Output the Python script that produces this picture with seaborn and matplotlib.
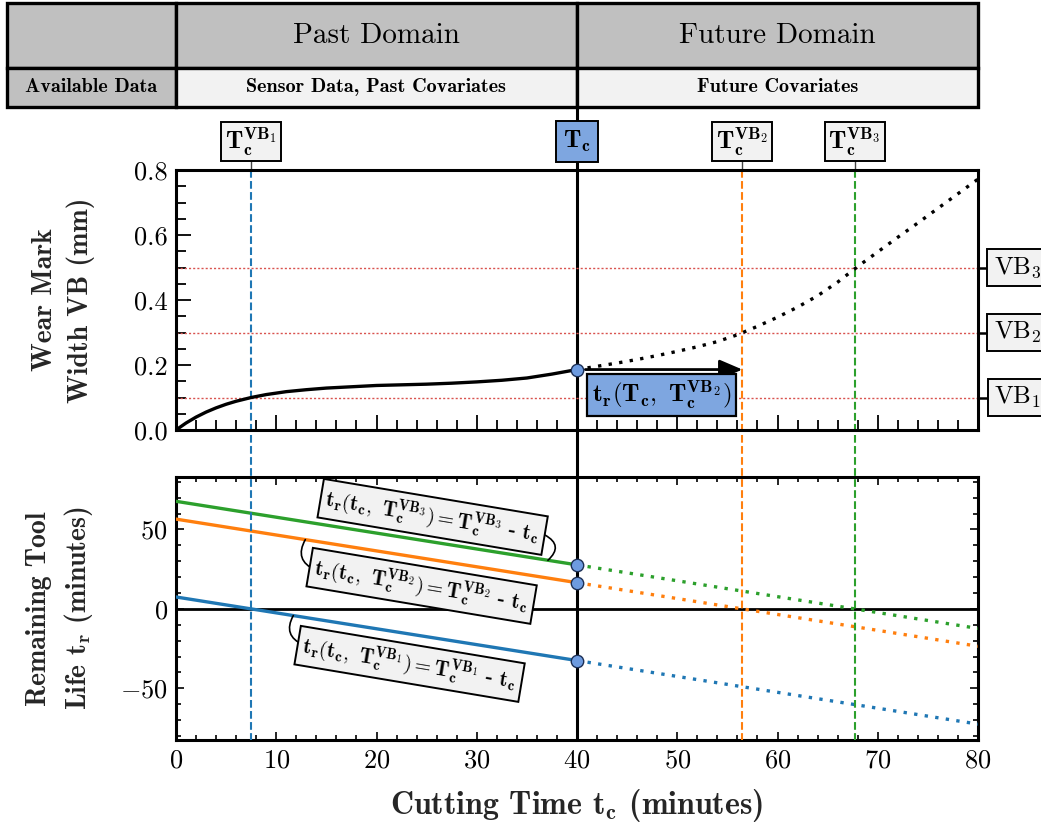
import matplotlib
matplotlib.use("Agg")
import matplotlib.pyplot as plt
from matplotlib.patches import Rectangle
from matplotlib.transforms import blended_transform_factory
from matplotlib.ticker import MultipleLocator, FormatStrFormatter
import seaborn as sns

# ---------------- data ----------------
# measured flank wear up to the current cutting time
wear_time = [0, 1, 2, 3, 4, 5, 6, 7.5, 9, 11, 13, 15, 17.5, 20, 22.5, 25, 27.5, 30, 32.5, 35, 37.5, 40]
wear_vb = [0.0, 0.0215, 0.0397, 0.0551, 0.0681, 0.0792, 0.0885, 0.100, 0.109, 0.118, 0.124, 0.129,
           0.133, 0.137, 0.139, 0.141, 0.144, 0.148, 0.153, 0.160, 0.172, 0.186]
# expected wear after the current cutting time
forecast_time = [40, 42, 44, 46, 48, 50, 52, 54, 56, 58, 60, 62, 64, 66, 68, 70, 72, 74, 76, 78, 80]
forecast_vb = [0.186, 0.196, 0.206, 0.217, 0.229, 0.242, 0.256, 0.272, 0.293, 0.319, 0.347, 0.378,
               0.413, 0.455, 0.503, 0.548, 0.593, 0.637, 0.682, 0.727, 0.772]

current_time = 40
vb_thresholds = [0.1, 0.3, 0.5]
vb_names = ["VB_1", "VB_2", "VB_3"]
threshold_times = [7.5, 56.5, 67.7]
threshold_colors = ["#1f77b4", "#ff7f0e", "#2ca02c"]

past_span = [0, 40]
future_span = [40, 80]

header_cells = ["Past Domain", "Future Domain"]
data_cells = ["Sensor Data, Past Covariates", "Future Covariates"]
row_title = "Available Data"

# ---------------- style ----------------
sns.set_theme(style="ticks")
plt.rcParams.update({
    "font.family": "serif",
    "font.serif": ["cmr10"],
    "mathtext.fontset": "cm",
    "axes.formatter.use_mathtext": True,
    "axes.linewidth": 2.2,
    "axes.edgecolor": "black",
    "xtick.color": "black",
    "ytick.color": "black",
    "text.color": "black",
})

GRAY = "#c0c0c0"
LIGHT = "#f2f2f2"
BLUE_BOX = "#7ea6e0"
BOLD = "cmb10"

W, H = 1041, 825
fig = plt.figure(figsize=(W / 100, H / 100), dpi=100)


def fx(px):
    return px / W


def fy(py):
    return 1 - py / H


ax_tab = fig.add_axes([fx(7), fy(107), fx(978) - fx(7), fy(3) - fy(107)])
ax_bot = fig.add_axes([fx(176), fy(740), fx(978) - fx(176), fy(477) - fy(740)])
ax_top = fig.add_axes([fx(176), fy(430), fx(978) - fx(176), fy(170) - fy(430)])
ax_top.set_facecolor("none")

# ---------------- header table ----------------
left_edge = -169 / 10.025
ax_tab.set_xlim(left_edge, 80)
ax_tab.set_ylim(0, 104)
ax_tab.axis("off")
cols = [(left_edge, 0), (0, 40), (40, 80)]
for i, (a, b) in enumerate(cols):
    ax_tab.add_patch(Rectangle((a, 39), b - a, 65, fc=GRAY, ec="black", lw=2.4, clip_on=False))
    ax_tab.add_patch(Rectangle((a, 0), b - a, 39, fc=GRAY if i == 0 else LIGHT, ec="black",
                               lw=2.4, clip_on=False))
ax_tab.text(sum(cols[0]) / 2, 19.5, row_title, ha="center", va="center", fontsize=14.5,
            family=BOLD)
for (a, b), head, dat in zip(cols[1:], header_cells, data_cells):
    ax_tab.text((a + b) / 2, 71.5, head, ha="center", va="center", fontsize=21)
    ax_tab.text((a + b) / 2, 19.5, dat, ha="center", va="center", fontsize=14.5, family=BOLD)

# ---------------- wear panel ----------------
sns.lineplot(x=wear_time, y=wear_vb, ax=ax_top, color="black", lw=2.4, zorder=4)
sns.lineplot(x=forecast_time, y=forecast_vb, ax=ax_top, color="black", lw=2.4,
             linestyle=(0, (1, 2.2)), zorder=4)
for vb in vb_thresholds:
    ax_top.axhline(vb, color="#d9534f", lw=1.0, linestyle=(0, (1.5, 1.5)), zorder=1)

vb_now = wear_vb[-1]
ax_top.annotate("", xy=(threshold_times[1], vb_now), xytext=(current_time, vb_now),
                arrowprops=dict(arrowstyle="-|>,head_length=0.7,head_width=0.3", lw=2.0,
                                color="black", mutation_scale=20, shrinkA=6, shrinkB=0),
                zorder=5)
ax_top.text(48.4, 0.109, r"$\mathbf{t_r(T_c,\ T_c^{VB_2})}$", ha="center", va="center",
            fontsize=18, bbox=dict(boxstyle="square,pad=0.2", fc=BLUE_BOX, ec="black", lw=1.6),
            zorder=6)
sns.scatterplot(x=[current_time], y=[vb_now], ax=ax_top, s=80, color="#6d9be0",
                edgecolor="#1c2f55", linewidth=1.0, zorder=7)

ax_top.set_xlim(0, 80)
ax_top.set_ylim(0, 0.8)
ax_top.xaxis.set_major_locator(MultipleLocator(10))
ax_top.xaxis.set_minor_locator(MultipleLocator(2))
ax_top.yaxis.set_major_locator(MultipleLocator(0.2))
ax_top.yaxis.set_minor_locator(MultipleLocator(0.05))
ax_top.yaxis.set_major_formatter(FormatStrFormatter("%.1f"))
ax_top.tick_params(which="both", direction="in", top=False, right=False, labelbottom=False,
                   labelsize=19, width=1.3, pad=6)
ax_top.tick_params(which="major", length=11)
ax_top.tick_params(which="minor", length=7)
ax_top.set_ylabel("Wear Mark\nWidth VB (mm)", family=BOLD, fontsize=20, linespacing=1.4)
ax_top.yaxis.set_label_coords(-0.101, 0.5)
ax_top.set_xlabel("")

# boxed labels for the threshold times above the wear panel
top_tr = blended_transform_factory(ax_top.transData, ax_top.transAxes)
fig_tr = blended_transform_factory(ax_top.transData, fig.transFigure)
for t, name in zip(threshold_times, vb_names):
    ax_top.plot([t, t], [fy(160), fy(170)], transform=fig_tr, color="#444444", lw=1.0,
                clip_on=False, zorder=2)
    ax_top.text(t, (430 - 141.5) / 260, r"$\mathbf{T_c^{%s}}$" % name, transform=top_tr,
                ha="center", va="center", fontsize=18, zorder=6,
                bbox=dict(boxstyle="square,pad=0.15", fc=LIGHT, ec="black", lw=1.4))
ax_top.text(current_time, (430 - 141.5) / 260, r"$\mathbf{T_c}$", transform=top_tr,
            ha="center", va="center", fontsize=18, zorder=6,
            bbox=dict(boxstyle="square,pad=0.3", fc=BLUE_BOX, ec="black", lw=1.4))

# boxed labels for the wear thresholds on the right
right_tr = blended_transform_factory(ax_top.transAxes, ax_top.transData)
for vb, name in zip(vb_thresholds, vb_names):
    ax_top.plot([1.0, 1.015], [vb, vb], transform=right_tr, color="black", lw=1.8,
                clip_on=False)
    ax_top.text(1.049, vb, r"$\mathrm{%s}$" % name, transform=right_tr, ha="center",
                va="center", fontsize=18,
                bbox=dict(boxstyle="square,pad=0.25", fc=LIGHT, ec="black", lw=1.4))

# ---------------- remaining life panel ----------------
ax_bot.axhline(0, color="black", lw=2.0, zorder=2)
for t_end, col in zip(threshold_times, threshold_colors):
    sns.lineplot(x=past_span, y=[t_end - t for t in past_span], ax=ax_bot, color=col,
                 lw=2.4, zorder=3)
    sns.lineplot(x=future_span, y=[t_end - t for t in future_span], ax=ax_bot, color=col,
                 lw=2.4, linestyle=(0, (1, 2.2)), zorder=3)
sns.scatterplot(x=[current_time] * 3, y=[t_end - current_time for t_end in threshold_times],
                ax=ax_bot, s=80, color="#6d9be0", edgecolor="#1c2f55", linewidth=1.0, zorder=6)

# vertical markers running through both panels
bot_fig_tr = blended_transform_factory(ax_bot.transData, fig.transFigure)
ax_bot.plot([current_time, current_time], [fy(107), fy(740)], transform=bot_fig_tr,
            color="black", lw=2.2, clip_on=False, zorder=4)
for t, col in zip(threshold_times, threshold_colors):
    ax_bot.plot([t, t], [fy(170), fy(740)], transform=bot_fig_tr, color=col, lw=1.5,
                linestyle="--", clip_on=False, zorder=4)

# equations attached to the three lines
eq_boxes = [(23.3, -34.6), (24.5, 14.5), (25.6, 57.9)]
eq_from = [(12.7, -22.6), (13.9, 24.5), (36.8, 46.5)]
eq_on_line_t = [11.7, 12.9, 37.1]
eq_rad = [-0.55, -0.55, -0.7]
for name, t_end, (bx, by), (fx0, fy0), tl, rad in zip(vb_names, threshold_times, eq_boxes,
                                                      eq_from, eq_on_line_t, eq_rad):
    label = (r"$\mathbf{t_r(t_c,\ T_c^{%s}) = T_c^{%s}}$ - $\mathbf{t_c}$" % (name, name))
    ax_bot.text(bx, by, label, family=BOLD, ha="center", va="center", rotation=-9.5,
                fontsize=15, zorder=7,
                bbox=dict(boxstyle="square,pad=0.25", fc=LIGHT, ec="black", lw=1.4))
    ax_bot.annotate("", xy=(tl, t_end - tl), xytext=(fx0, fy0),
                    arrowprops=dict(arrowstyle="-", color="black", lw=1.2,
                                    connectionstyle="arc3,rad=%s" % rad, shrinkA=0, shrinkB=0),
                    zorder=6)

ax_bot.set_xlim(0, 80)
ax_bot.set_ylim(-82.5, 83)
ax_bot.xaxis.set_major_locator(MultipleLocator(10))
ax_bot.xaxis.set_minor_locator(MultipleLocator(2))
ax_bot.yaxis.set_major_locator(MultipleLocator(50))
ax_bot.yaxis.set_minor_locator(MultipleLocator(10))
ax_bot.tick_params(which="both", direction="in", top=True, right=True, labelsize=19,
                   width=1.2, pad=6)
ax_bot.tick_params(which="major", length=6)
ax_bot.tick_params(which="minor", length=3.5)
ax_bot.set_ylabel("Remaining Tool\nLife $\\mathbf{t_r}$ (minutes)", family=BOLD, fontsize=20,
                  linespacing=1.4)
ax_bot.yaxis.set_label_coords(-0.101, 0.5)
ax_bot.set_xlabel("Cutting Time $\\mathbf{t_c}$ (minutes)", family=BOLD, fontsize=23)
ax_bot.xaxis.set_label_coords(0.5, -0.18)

for ax in (ax_top, ax_bot):
    for s in ax.spines.values():
        s.set_linewidth(2.2)
        s.set_visible(True)

fig.savefig("out.png", dpi=100, facecolor="white")
